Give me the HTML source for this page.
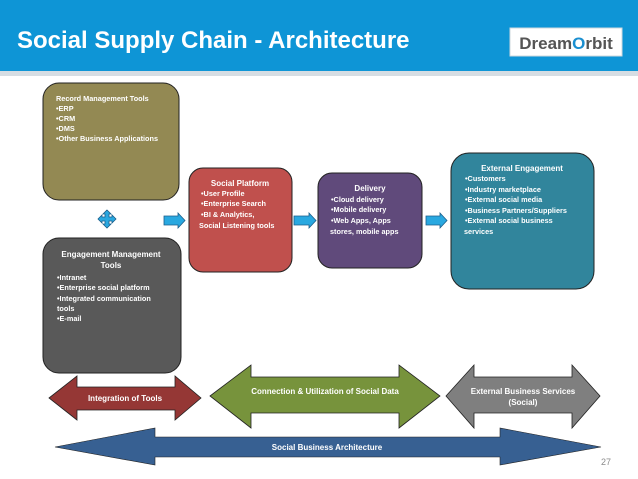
<!DOCTYPE html>
<html><head><meta charset="utf-8"><style>
html,body{margin:0;padding:0;background:#fff;}
svg{display:block;}
text{font-family:"Liberation Sans",sans-serif;font-weight:bold;fill:#fff;}
.s{font-size:7.3px;}
</style></head><body>
<svg width="638" height="479" viewBox="0 0 638 479" xmlns="http://www.w3.org/2000/svg">
<rect x="0" y="0" width="638" height="71" fill="#0e95d6"/>
<rect x="0" y="71" width="638" height="5" fill="#d6dde3"/>
<text x="17" y="48" style="font-size:24px">Social Supply Chain - Architecture</text>
<rect x="510" y="28" width="112" height="28" fill="#fff" stroke="#cfd8de"/>
<text x="566" y="49" text-anchor="middle" style="font-size:17px;fill:#555">Dream<tspan fill="#1a8fd0">O</tspan>rbit</text>

<!-- Record -->
<rect x="43" y="83" width="136" height="117" rx="16" fill="#938953" stroke="#222" stroke-width="1"/>
<text class="s" x="56" y="101">Record Management Tools</text>
<text class="s" x="56" y="111">•ERP</text>
<text class="s" x="56" y="121">•CRM</text>
<text class="s" x="56" y="131">•DMS</text>
<text class="s" x="56" y="141">•Other Business Applications</text>

<!-- Engagement -->
<rect x="43" y="238" width="138" height="135" rx="16" fill="#595959" stroke="#222"/>
<text class="s" x="111" y="257" text-anchor="middle" style="font-size:8px">Engagement Management</text>
<text class="s" x="111" y="268" text-anchor="middle" style="font-size:8px">Tools</text>
<text class="s" x="57" y="280">•Intranet</text>
<text class="s" x="57" y="290">•Enterprise social platform</text>
<text class="s" x="57" y="301">•Integrated communication</text>
<text class="s" x="57" y="311">tools</text>
<text class="s" x="57" y="321">•E-mail</text>

<!-- move icon -->
<path d="M107 210 l4 4 h-2 v3 h3 v-2 l4 4 l-4 4 v-2 h-3 v3 h2 l-4 4 l-4 -4 h2 v-3 h-3 v2 l-4 -4 l4 -4 v2 h3 v-3 h-2 z" fill="#29a8e0" stroke="#1b5e8a" stroke-width="0.8"/>

<!-- Social platform -->
<rect x="189" y="168" width="103" height="104" rx="14" fill="#c0504d" stroke="#222"/>
<text class="s" x="240" y="186" text-anchor="middle" style="font-size:8px">Social Platform</text>
<text class="s" x="201" y="196">•User Profile</text>
<text class="s" x="201" y="206">•Enterprise Search</text>
<text class="s" x="201" y="217">•BI &amp; Analytics,</text>
<text class="s" x="199" y="228">Social Listening tools</text>

<!-- Delivery -->
<rect x="318" y="173" width="104" height="95" rx="14" fill="#604a7b" stroke="#222"/>
<text class="s" x="370" y="191" text-anchor="middle" style="font-size:8px">Delivery</text>
<text class="s" x="331" y="202">•Cloud delivery</text>
<text class="s" x="331" y="212">•Mobile delivery</text>
<text class="s" x="331" y="223">•Web Apps, Apps</text>
<text class="s" x="330" y="234">stores, mobile apps</text>

<!-- External -->
<rect x="451" y="153" width="143" height="136" rx="18" fill="#31859c" stroke="#222"/>
<text class="s" x="522" y="171" text-anchor="middle" style="font-size:8px">External Engagement</text>
<text class="s" x="465" y="181">•Customers</text>
<text class="s" x="465" y="192">•Industry marketplace</text>
<text class="s" x="465" y="202">•External social media</text>
<text class="s" x="465" y="213">•Business Partners/Suppliers</text>
<text class="s" x="465" y="223">•External social business</text>
<text class="s" x="464" y="234">services</text>

<!-- small arrows -->
<g fill="#29a8e0" stroke="#1b5e8a" stroke-width="0.8">
<path d="M164 216 h14 v-3 l7 7.5 l-7 7.5 v-3 h-14 z"/>
<path d="M294 216 h15 v-3 l7 7.5 l-7 7.5 v-3 h-15 z"/>
<path d="M426 216 h14 v-3 l7 7.5 l-7 7.5 v-3 h-14 z"/>
</g>

<!-- bottom arrows -->
<path d="M49 398 L77 376 V387 H175 V376 L201 398 L175 420 V410 H77 V420 Z" fill="#953735" stroke="#222" stroke-width="0.8"/>
<text x="125" y="401" text-anchor="middle" style="font-size:8px">Integration of Tools</text>
<path d="M210 396 L251 365 V377 H399 V365 L440 396 L399 428 V413 H251 V428 Z" fill="#77933c" stroke="#222" stroke-width="0.8"/>
<text x="325" y="394" text-anchor="middle" style="font-size:8px">Connection &amp; Utilization of Social Data</text>
<path d="M446 396 L474 365 V377 H572 V365 L600 396 L572 428 V413 H474 V428 Z" fill="#7f7f7f" stroke="#222" stroke-width="0.8"/>
<text x="523" y="394" text-anchor="middle" style="font-size:8px">External Business Services</text>
<text x="523" y="405" text-anchor="middle" style="font-size:8px">(Social)</text>
<path d="M55 447 L155 428 V437 H500 V428 L601 447 L500 465 V457 H155 V465 Z" fill="#376092" stroke="#222" stroke-width="0.6"/>
<text x="327" y="450" text-anchor="middle" style="font-size:8px">Social Business Architecture</text>
<text x="606" y="465" text-anchor="middle" style="font-size:9px;font-weight:normal;fill:#8c8c8c">27</text>
</svg>
</body></html>
